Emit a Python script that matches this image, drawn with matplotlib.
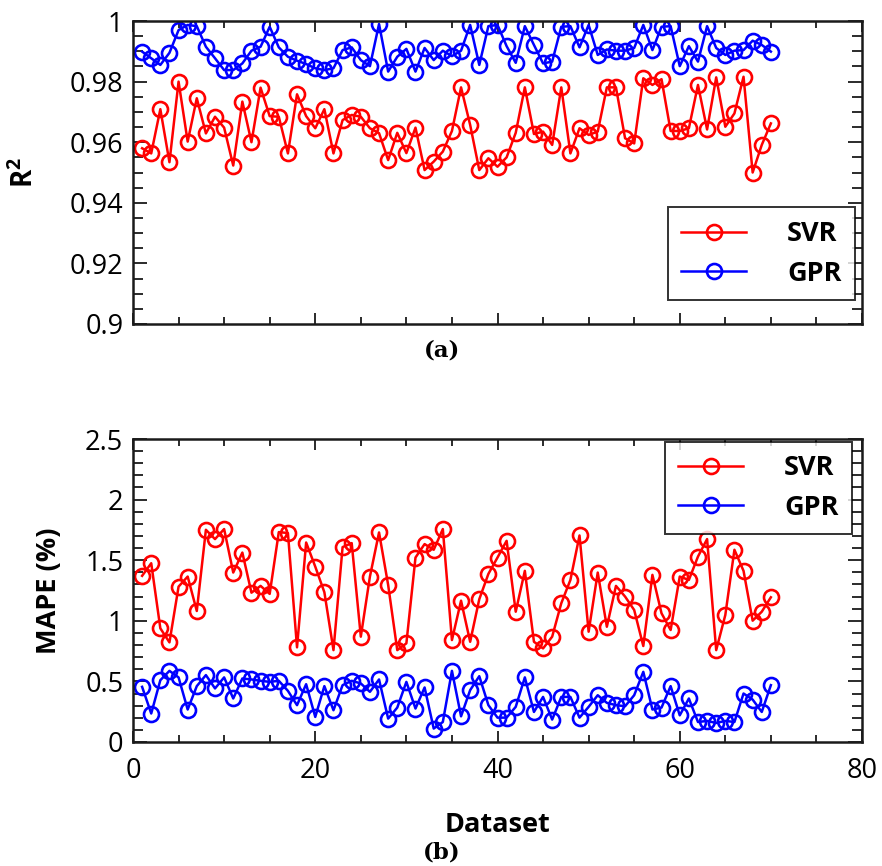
import matplotlib
matplotlib.use("Agg")
import matplotlib.pyplot as plt
from matplotlib.ticker import MultipleLocator

plt.rcParams['font.family'] = ['Open Sans', 'DejaVu Sans']

dataset = list(range(1, 71))

r2_svr = [0.9580, 0.9563, 0.9709, 0.9534, 0.9800, 0.9602, 0.9745, 0.9629, 0.9684, 0.9648,
          0.9523, 0.9734, 0.9600, 0.9780, 0.9686, 0.9684, 0.9563, 0.9758, 0.9686, 0.9646,
          0.9709, 0.9563, 0.9673, 0.9690, 0.9684, 0.9646, 0.9630, 0.9541, 0.9631, 0.9564,
          0.9648, 0.9508, 0.9536, 0.9569, 0.9637, 0.9781, 0.9657, 0.9508, 0.9547, 0.9519,
          0.9550, 0.9631, 0.9781, 0.9627, 0.9635, 0.9591, 0.9781, 0.9563, 0.9646, 0.9624,
          0.9635, 0.9781, 0.9781, 0.9613, 0.9596, 0.9811, 0.9789, 0.9808, 0.9637, 0.9637,
          0.9646, 0.9789, 0.9642, 0.9814, 0.9651, 0.9695, 0.9816, 0.9500, 0.9591, 0.9662]

r2_gpr = [0.9899, 0.9877, 0.9855, 0.9895, 0.9970, 0.9987, 0.9983, 0.9915, 0.9877, 0.9838,
          0.9838, 0.9860, 0.9902, 0.9915, 0.9981, 0.9913, 0.9882, 0.9869, 0.9858, 0.9844,
          0.9838, 0.9844, 0.9904, 0.9913, 0.9871, 0.9851, 0.9990, 0.9833, 0.9882, 0.9908,
          0.9833, 0.9911, 0.9871, 0.9902, 0.9884, 0.9902, 0.9987, 0.9855, 0.9983, 0.9987,
          0.9917, 0.9862, 0.9983, 0.9921, 0.9860, 0.9866, 0.9981, 0.9983, 0.9913, 0.9987,
          0.9888, 0.9906, 0.9902, 0.9902, 0.9911, 0.9987, 0.9904, 0.9981, 0.9983, 0.9851,
          0.9917, 0.9866, 0.9983, 0.9911, 0.9888, 0.9902, 0.9904, 0.9935, 0.9921, 0.9899]

mape_svr = [1.371, 1.475, 0.938, 0.822, 1.282, 1.365, 1.081, 1.751, 1.674, 1.757,
            1.398, 1.563, 1.232, 1.288, 1.222, 1.732, 1.724, 0.781, 1.646, 1.447,
            1.236, 0.758, 1.608, 1.641, 0.869, 1.365, 1.729, 1.296, 0.758, 0.814,
            1.522, 1.633, 1.586, 1.757, 0.841, 1.166, 0.827, 1.178, 1.387, 1.522,
            1.660, 1.075, 1.412, 0.827, 0.772, 0.869, 1.145, 1.337, 1.704, 0.910,
            1.398, 0.951, 1.288, 1.200, 1.089, 0.792, 1.379, 1.062, 0.924, 1.365,
            1.337, 1.530, 1.674, 0.758, 1.048, 1.586, 1.412, 1.001, 1.075, 1.194]

mape_gpr = [0.455, 0.235, 0.510, 0.587, 0.533, 0.268, 0.461, 0.552, 0.442, 0.533,
            0.359, 0.524, 0.516, 0.505, 0.496, 0.505, 0.422, 0.304, 0.477, 0.207,
            0.461, 0.262, 0.469, 0.505, 0.483, 0.414, 0.516, 0.193, 0.284, 0.496,
            0.276, 0.450, 0.111, 0.165, 0.587, 0.212, 0.428, 0.543, 0.304, 0.201,
            0.201, 0.290, 0.533, 0.248, 0.372, 0.185, 0.372, 0.372, 0.201, 0.290,
            0.386, 0.323, 0.304, 0.295, 0.386, 0.579, 0.268, 0.284, 0.461, 0.220,
            0.359, 0.165, 0.174, 0.157, 0.174, 0.165, 0.400, 0.350, 0.248, 0.469]

series_labels = ['SVR', 'GPR']
series_colors = ['#ff0000', '#0000ff']

r2_ticks = [0.9, 0.92, 0.94, 0.96, 0.98, 1.0]
r2_ticklabels = ['0.9', '0.92', '0.94', '0.96', '0.98', '1']
mape_ticks = [0, 0.5, 1.0, 1.5, 2.0, 2.5]
mape_ticklabels = ['0', '0.5', '1', '1.5', '2', '2.5']
x_ticks = [0, 20, 40, 60, 80]
x_ticklabels = ['0', '20', '40', '60', '80']

W, H = 882, 866
fig = plt.figure(figsize=(W / 100, H / 100), dpi=100)

def frac_axes(l, t, r, b):
    return fig.add_axes([l / W, 1 - b / H, (r - l) / W, (b - t) / H])

ax1 = frac_axes(133, 21, 862, 324)
ax2 = frac_axes(133, 439, 862, 742)

line_kw = dict(marker='o', markerfacecolor='none', markersize=10.8,
               markeredgewidth=1.9, linewidth=1.8)

for ax, s1, s2 in [(ax1, r2_svr, r2_gpr), (ax2, mape_svr, mape_gpr)]:
    ax.plot(dataset, s1, color=series_colors[0], label=series_labels[0], **line_kw)
    ax.plot(dataset, s2, color=series_colors[1], label=series_labels[1], **line_kw)
    ax.set_xlim(0, 80)
    ax.set_xticks(x_ticks)
    ax.xaxis.set_minor_locator(MultipleLocator(5))
    for sp in ax.spines.values():
        sp.set_linewidth(1.8)
        sp.set_color('#1a1a1a')
    ax.tick_params(which='both', direction='in', top=True, right=True,
                   colors='#1a1a1a', labelcolor='black', labelsize=19.5)
    ax.tick_params(axis='x', which='major', length=8, width=1.3, pad=11)
    ax.tick_params(axis='x', which='minor', length=5, width=1.3)
    ax.tick_params(axis='y', which='major', length=10, width=1.3, pad=7)
    ax.tick_params(axis='y', which='minor', length=7, width=1.3)

ax1.set_ylim(0.9, 1.0)
ax1.set_yticks(r2_ticks)
ax1.set_yticklabels(r2_ticklabels)
ax1.yaxis.set_minor_locator(MultipleLocator(0.005))
ax1.set_xticklabels([])
ax1.set_ylabel('R$^\\mathregular{2}$', fontsize=20, fontweight='bold')
ax1.yaxis.set_label_coords(-0.128, 0.5)

ax2.set_ylim(0, 2.5)
ax2.set_yticks(mape_ticks)
ax2.set_yticklabels(mape_ticklabels)
ax2.yaxis.set_minor_locator(MultipleLocator(0.1))
ax2.set_xticklabels(x_ticklabels)
ax2.set_ylabel('MAPE (%)', fontsize=19.5, fontweight='bold')
ax2.yaxis.set_label_coords(-0.097, 0.5)
ax2.set_xlabel('Dataset', fontsize=19.5, fontweight='bold', labelpad=19)

leg_kw = dict(prop={'weight': 'bold', 'size': 19.5}, frameon=True, fancybox=False,
              handlelength=2.4, handletextpad=1.5, borderaxespad=0,
              borderpad=0.5, labelspacing=0.5, markerscale=1.0)
l1 = ax1.legend(loc='lower right', bbox_to_anchor=(0.9904, 0.079), **leg_kw)
l2 = ax2.legend(loc='upper right', bbox_to_anchor=(0.9863, 0.991), **leg_kw)
for lg in (l1, l2):
    lg.get_frame().set_edgecolor('black')
    lg.get_frame().set_linewidth(1.4)

fig.text(442 / W, 1 - 350 / H, '(a)', family='DejaVu Serif', fontweight='bold',
         fontsize=16.5, ha='center', va='center')
fig.text(442 / W, 1 - 853 / H, '(b)', family='DejaVu Serif', fontweight='bold',
         fontsize=16.5, ha='center', va='center')

fig.savefig('out.png', dpi=100)
